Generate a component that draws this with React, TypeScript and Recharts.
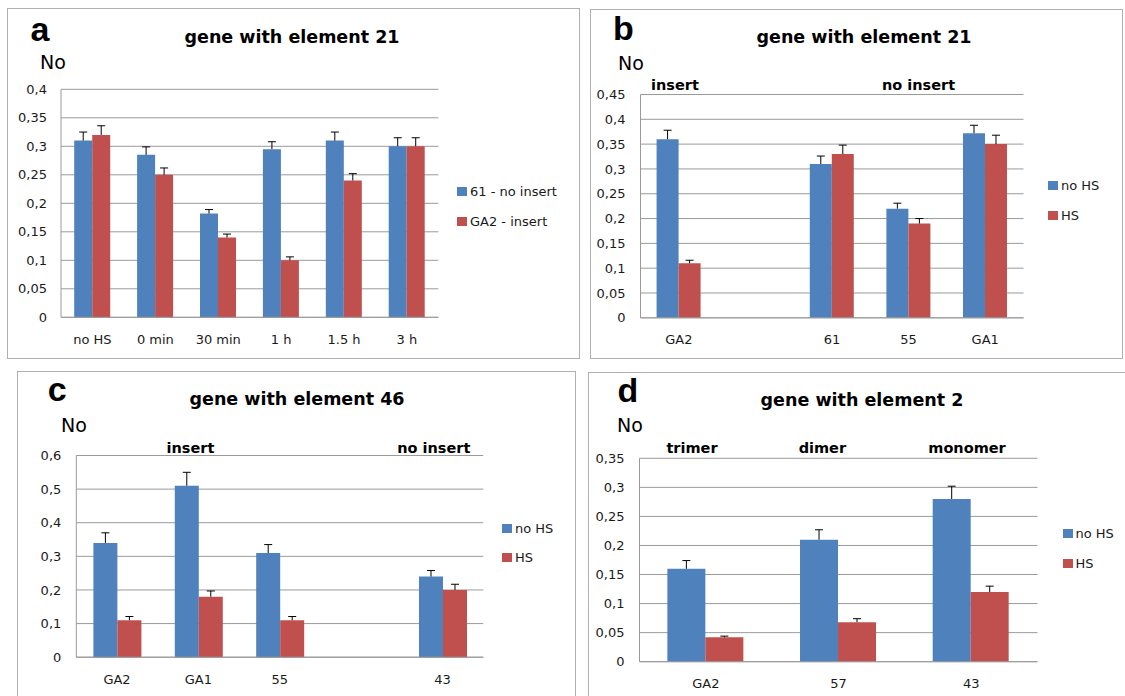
import { BarChart, Bar, XAxis, YAxis, CartesianGrid, Legend, ErrorBar } from 'recharts'

const BLUE = '#4F81BD'
const RED = '#C0504D'
const GRID = '#9A9A9A'
const FRAME = '#B0B0B0'
const TXT = '#1A1A1A'
const FONT = '"DejaVu Sans", sans-serif'
const LETTER_FONT = '"Liberation Sans", Arial, sans-serif'

// panel a: gene with element 21, time course
const catsA = ['no HS', '0 min', '30 min', '1 h', '1.5 h', '3 h']
const blueA = [0.31, 0.285, 0.182, 0.295, 0.31, 0.3]
const blueErrA = [0.015, 0.014, 0.007, 0.013, 0.015, 0.015]
const redA = [0.32, 0.25, 0.14, 0.1, 0.24, 0.3]
const redErrA = [0.016, 0.012, 0.006, 0.006, 0.012, 0.015]
const ticksA = [0, 0.05, 0.1, 0.15, 0.2, 0.25, 0.3, 0.35, 0.4]
const seriesA = ['61 - no insert', 'GA2 - insert']

// panel b: gene with element 21, lines
const catsB = ['GA2', '', '61', '55', 'GA1']
const blueB = [0.36, null, 0.31, 0.22, 0.372]
const blueErrB = [0.018, null, 0.016, 0.011, 0.016]
const redB = [0.11, null, 0.33, 0.19, 0.35]
const redErrB = [0.006, null, 0.018, 0.01, 0.018]
const ticksB = [0, 0.05, 0.1, 0.15, 0.2, 0.25, 0.3, 0.35, 0.4, 0.45]

// panel c: gene with element 46
const catsC = ['GA2', 'GA1', '55', '', '43']
const blueC = [0.34, 0.51, 0.31, null, 0.24]
const blueErrC = [0.03, 0.04, 0.025, null, 0.018]
const redC = [0.11, 0.18, 0.11, null, 0.2]
const redErrC = [0.011, 0.017, 0.011, null, 0.017]
const ticksC = [0, 0.1, 0.2, 0.3, 0.4, 0.5, 0.6]

// panel d: gene with element 2
const catsD = ['GA2', '57', '43']
const blueD = [0.16, 0.21, 0.28]
const blueErrD = [0.014, 0.017, 0.022]
const redD = [0.042, 0.068, 0.12]
const redErrD = [0.002, 0.006, 0.01]
const ticksD = [0, 0.05, 0.1, 0.15, 0.2, 0.25, 0.3, 0.35]

const seriesHS = ['no HS', 'HS']

type Num = number | null

function makeRows(cats: string[], blue: Num[], blueErr: Num[], red: Num[], redErr: Num[]) {
  return cats.map((name, i) => ({
    name,
    blue: blue[i],
    red: red[i],
    // plus-only error bars, like the Excel original
    blueErr: blueErr[i] == null ? null : [0, blueErr[i]],
    redErr: redErr[i] == null ? null : [0, redErr[i]],
  }))
}

const fmt = (v: number) => String(v).replace('.', ',')

function legendContent(pitch: number, names: string[]) {
  return (props: any) => {
    const items = [...(props.payload || [])].sort((a: any, b: any) => names.indexOf(a.value) - names.indexOf(b.value))
    return (
      <div style={{ fontFamily: FONT, fontSize: 13, color: TXT }}>
        {items.map((p: any) => (
          <div key={p.value} style={{ display: 'flex', alignItems: 'center', height: pitch, whiteSpace: 'nowrap' }}>
            <span style={{ display: 'inline-block', width: 10, height: 9, background: p.color, marginRight: 3 }} />
            {p.value}
          </div>
        ))}
      </div>
    )
  }
}

type PanelProps = {
  box: number[]
  plot: number[]
  rows: any[]
  ticks: number[]
  names: string[]
  legend: { left: number; center: number; pitch: number }
  yMargin: number
  xMargin: number
}

function Panel({ box, plot, rows, ticks, names, legend, yMargin, xMargin }: PanelProps) {
  const [bl, bt, br, bb] = box
  const [pl, pt, pr, pb] = plot
  const tick = { fill: TXT, fontSize: 13, fontFamily: FONT }
  return (
    <div style={{ position: 'absolute', left: bl, top: bt }}>
      <BarChart
        width={br - bl}
        height={bb - bt}
        data={rows}
        margin={{ top: pt - bt, right: br - pr, left: 0, bottom: 0 }}
        barCategoryGap="21%"
        barGap={0}
      >
        <CartesianGrid vertical={false} stroke={GRID} />
        <XAxis
          dataKey="name"
          height={bb - pb}
          interval={0}
          tickLine={false}
          axisLine={{ stroke: GRID }}
          tick={tick}
          tickMargin={xMargin}
        />
        <YAxis
          width={pl - bl}
          domain={[0, ticks[ticks.length - 1]]}
          ticks={ticks}
          interval={0}
          tickLine={false}
          axisLine={{ stroke: GRID }}
          tick={tick}
          tickMargin={yMargin}
          tickFormatter={fmt}
        />
        <Legend
          layout="vertical"
          align="center"
          verticalAlign="middle"
          itemSorter="dataKey"
          wrapperStyle={{ left: legend.left - bl, top: legend.center - legend.pitch / 2 - bt, width: 160, height: 'auto' }}
          content={legendContent(legend.pitch, names)}
        />
        <Bar dataKey="blue" name={names[0]} fill={BLUE} isAnimationActive={false}>
          <ErrorBar dataKey="blueErr" width={4} stroke="#000" strokeWidth={1} direction="y" />
        </Bar>
        <Bar dataKey="red" name={names[1]} fill={RED} isAnimationActive={false}>
          <ErrorBar dataKey="redErr" width={4} stroke="#000" strokeWidth={1} direction="y" />
        </Bar>
      </BarChart>
    </div>
  )
}

// text placed by horizontal centre and baseline
function Txt({ x, base, size, bold, family, children }: any) {
  return (
    <div
      style={{
        position: 'absolute',
        left: x,
        top: base - 0.846 * size,
        transform: 'translateX(-50%)',
        fontSize: size,
        lineHeight: `${size}px`,
        fontWeight: bold ? 'bold' : 'normal',
        fontFamily: family || FONT,
        color: '#000',
        whiteSpace: 'nowrap',
      }}
    >
      {children}
    </div>
  )
}

function Frame({ l, t, r, b }: any) {
  return (
    <div
      style={{
        position: 'absolute',
        left: l,
        top: t,
        width: r - l,
        height: b - t,
        border: `1.5px solid ${FRAME}`,
        boxSizing: 'border-box',
      }}
    />
  )
}

export default function App() {
  const rowsA = makeRows(catsA, blueA, blueErrA, redA, redErrA)
  const rowsB = makeRows(catsB, blueB, blueErrB, redB, redErrB)
  const rowsC = makeRows(catsC, blueC, blueErrC, redC, redErrC)
  const rowsD = makeRows(catsD, blueD, blueErrD, redD, redErrD)

  return (
    <div style={{ position: 'absolute', left: 0, top: 0, width: 1125, height: 696, overflow: 'hidden', background: '#fff' }}>
      {/* Excel plus-only error bars: no whisker at the bar top */}
      <style>{'.recharts-errorBar line:nth-of-type(3) { display: none; }'}</style>
      <Frame l={7} t={8} r={579.5} b={358.5} />
      <Frame l={589.5} t={8.5} r={1123} b={358.5} />
      <Frame l={16.5} t={370.5} r={576} b={720} />
      <Frame l={587.5} t={372} r={1140} b={720} />

      <Panel
        box={[7, 8, 579.5, 358]}
        plot={[61, 89.3, 438.4, 317.3]}
        rows={rowsA}
        ticks={ticksA}
        names={seriesA}
        legend={{ left: 457, center: 191, pitch: 30 }}
        yMargin={8}
        xMargin={11}
      />
      <Panel
        box={[589.5, 8.5, 1123, 358]}
        plot={[640, 94, 1023, 317.3]}
        rows={rowsB}
        ticks={ticksB}
        names={seriesHS}
        legend={{ left: 1048, center: 185.3, pitch: 30 }}
        yMargin={9}
        xMargin={11}
      />
      <Panel
        box={[16.5, 370.5, 576, 700]}
        plot={[75.8, 455, 482.8, 656.7]}
        rows={rowsC}
        ticks={ticksC}
        names={seriesHS}
        legend={{ left: 502, center: 528, pitch: 29 }}
        yMargin={9}
        xMargin={12}
      />
      <Panel
        box={[587.5, 372, 1125, 700]}
        plot={[639, 458.3, 1037, 661.7]}
        rows={rowsD}
        ticks={ticksD}
        names={seriesHS}
        legend={{ left: 1062.5, center: 533.7, pitch: 29.5 }}
        yMargin={9}
        xMargin={11.5}
      />

      <Txt x={40} base={41} size={34} bold family={LETTER_FONT}>a</Txt>
      <Txt x={292} base={43.5} size={17.5} bold>gene with element 21</Txt>
      <Txt x={53} base={69.3} size={19}>No</Txt>

      <Txt x={623.5} base={40} size={34} bold family={LETTER_FONT}>b</Txt>
      <Txt x={864} base={44.3} size={17.5} bold>gene with element 21</Txt>
      <Txt x={631} base={70} size={19}>No</Txt>
      <Txt x={675} base={90.7} size={14.5} bold>insert</Txt>
      <Txt x={918.5} base={90.7} size={14.5} bold>no insert</Txt>

      <Txt x={57.3} base={400.7} size={34} bold family={LETTER_FONT}>c</Txt>
      <Txt x={297} base={406} size={17.5} bold>gene with element 46</Txt>
      <Txt x={74} base={431.7} size={19}>No</Txt>
      <Txt x={190.5} base={453.3} size={14.5} bold>insert</Txt>
      <Txt x={433.8} base={453.3} size={14.5} bold>no insert</Txt>

      <Txt x={628} base={401.7} size={34} bold family={LETTER_FONT}>d</Txt>
      <Txt x={862} base={406.7} size={17.5} bold>gene with element 2</Txt>
      <Txt x={630} base={432.3} size={19}>No</Txt>
      <Txt x={692} base={453.3} size={14.5} bold>trimer</Txt>
      <Txt x={822.4} base={453.3} size={14.5} bold>dimer</Txt>
      <Txt x={967} base={453.3} size={14.5} bold>monomer</Txt>
    </div>
  )
}
